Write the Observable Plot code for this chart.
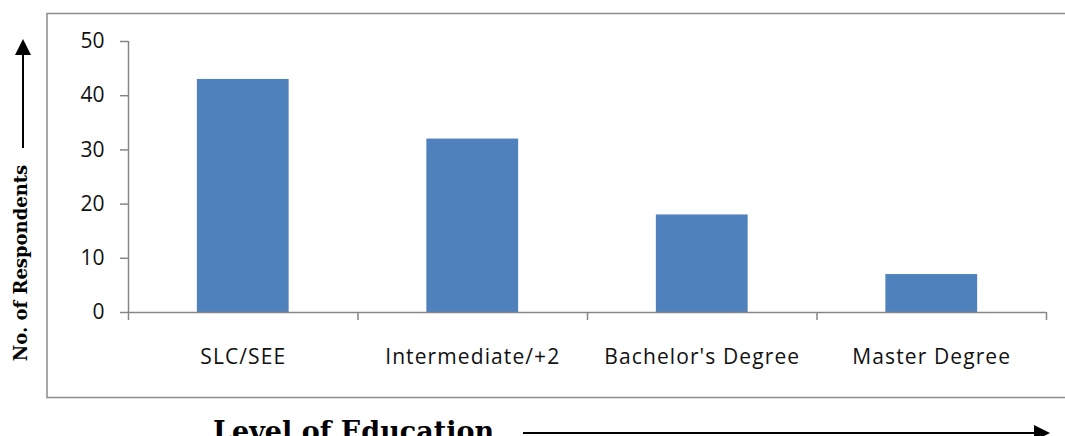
<!DOCTYPE html>
<html>
<head>
<meta charset="utf-8">
<script src="https://cdn.jsdelivr.net/npm/d3@7"></script>
<script src="https://cdn.jsdelivr.net/npm/@observablehq/plot@0.6"></script>
<style>
  body { margin: 0; background: #fff; }
  g[aria-label="x-axis tick label"] text { letter-spacing: 1.1px; }
</style>
</head>
<body>
<div id="chart"></div>
<script>
// Respondents by level of education
const levels = ["SLC/SEE", "Intermediate/+2", "Bachelor's Degree", "Master Degree"];
const respondents = [43, 32, 18, 7];
const yTicks = [0, 10, 20, 30, 40, 50];
const yTitle = "No. of Respondents";
const xTitle = "Level of Education";

const rows = levels.map((level, i) => ({level, index: i, count: respondents[i]}));

const axisGray = "#868686";
const barBlue = "#4F81BD";
const textColor = "#111";

const chart = Plot.plot({
  width: 1065,
  height: 436,
  marginLeft: 128,
  marginRight: 19,
  marginTop: 41,
  marginBottom: 124,
  style: {fontFamily: "'Open Sans', sans-serif", fontSize: "21px", color: textColor, background: "#fff"},
  x: {type: "linear", domain: [0, levels.length], axis: null},
  y: {domain: [0, 50], axis: null},
  marks: [
    // bars sit in the middle 40% of each category slot
    Plot.rectY(rows, {x1: d => d.index + 0.3, x2: d => d.index + 0.7, y: "count", fill: barBlue}),
    Plot.ruleY([0], {stroke: axisGray, strokeWidth: 1.5}),
    Plot.ruleX([0], {y1: 0, y2: 50, stroke: axisGray, strokeWidth: 1.5}),
    Plot.axisY({ticks: yTicks, tickSize: 8, tickPadding: 16, stroke: axisGray, strokeWidth: 1.5,
                fill: textColor, fontSize: 21, label: null}),
    // tick marks between categories
    Plot.axisX({ticks: d3.range(levels.length + 1), tickFormat: () => "", tickSize: 8,
                stroke: axisGray, strokeWidth: 1.5, label: null}),
    // category names centred in each slot
    Plot.axisX({ticks: levels.map((_, i) => i + 0.5), tickFormat: t => levels[Math.floor(t)],
                tickSize: 0, tickPadding: 37, fill: textColor, fontSize: 21, label: null})
  ]
});

const svg = d3.select(chart);

// outer chart border
svg.insert("rect", ":first-child")
  .attr("x", 47).attr("y", 13.5).attr("width", 1040).attr("height", 384)
  .attr("fill", "none").attr("stroke", "#8c8c8c").attr("stroke-width", 1.5);

// vertical title with upward arrow
svg.append("text")
  .attr("transform", "translate(27,263) rotate(-90)")
  .attr("text-anchor", "middle")
  .attr("font-family", "'DejaVu Serif', serif")
  .attr("font-weight", "bold")
  .attr("font-size", 18)
  .attr("fill", "#000")
  .text(yTitle);
svg.append("line")
  .attr("x1", 23).attr("x2", 23).attr("y1", 148).attr("y2", 54)
  .attr("stroke", "#000").attr("stroke-width", 2);
svg.append("polygon")
  .attr("points", "23,39 15,55 31,55")
  .attr("fill", "#000");

// horizontal title with rightward arrow
svg.append("text")
  .attr("x", 213).attr("y", 441)
  .attr("text-anchor", "start")
  .attr("font-family", "'DejaVu Serif', serif")
  .attr("font-weight", "bold")
  .attr("font-size", 27)
  .attr("fill", "#000")
  .text(xTitle);
svg.append("line")
  .attr("x1", 523).attr("x2", 1036).attr("y1", 433).attr("y2", 433)
  .attr("stroke", "#000").attr("stroke-width", 2);
svg.append("polygon")
  .attr("points", "1050,433 1034,425 1034,441")
  .attr("fill", "#000");

document.getElementById("chart").appendChild(chart);
</script>
</body>
</html>
